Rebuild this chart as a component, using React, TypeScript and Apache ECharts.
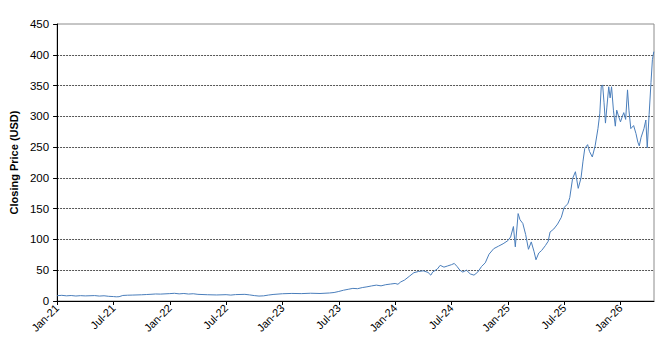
import React, { useEffect, useRef } from "react";
import * as echarts from "echarts";

// Months elapsed since 1 Jan 2021 (fractional) for each close reading
const monthOffset = [
  0, 0.5, 1, 1.5, 2, 2.5, 3, 4, 4.5, 5, 5.5, 6, 6.3, 6.6, 7, 7.5, 8, 9, 9.5, 10,
  10.5, 11, 12, 12.5, 13, 13.5, 14, 14.5, 15, 16, 17, 18, 18.5, 19, 20, 20.5, 21,
  21.5, 22, 22.5, 23, 24, 25, 26, 27, 28, 29, 29.5, 30, 30.5, 31, 31.5, 32, 32.5,
  33, 33.5, 34, 34.5, 35, 35.5, 36, 36.3, 36.6, 37, 37.5, 38, 38.5, 39, 39.5,
  39.8, 40, 40.5, 40.8, 41.2, 41.6, 42, 42.3, 42.6, 42.9, 43.2, 43.6, 44, 44.4,
  44.8, 45.2, 45.6, 46, 46.5, 47, 47.5, 48, 48.3, 48.6, 48.8, 49.1, 49.3, 49.6,
  49.9, 50.2, 50.5, 50.8, 51, 51.3, 51.6, 52, 52.3, 52.5, 52.9, 53.3, 53.7, 54,
  54.4, 54.6, 54.9, 55.2, 55.5, 55.8, 56, 56.2, 56.5, 56.7, 57, 57.3, 57.6, 57.8,
  57.95, 58.1, 58.25, 58.4, 58.55, 58.75, 58.9, 59.05, 59.25, 59.45, 59.6, 59.8,
  60, 60.2, 60.35, 60.55, 60.75, 60.9, 61.1, 61.4, 61.65, 61.85, 62, 62.2, 62.5,
  62.7, 62.85, 63.05, 63.25, 63.4, 63.55,
];

// Closing price (USD)
const closePrice = [
  8.6, 9.2, 8.4, 8.9, 8.1, 8.7, 8.3, 8.8, 8.0, 8.5, 7.6, 7.2, 6.8, 7.0, 9.0, 9.4,
  9.6, 10.1, 10.5, 10.9, 11.4, 11.2, 12.0, 12.5, 11.6, 12.2, 11.3, 11.8, 10.8,
  10.2, 9.8, 10.3, 9.6, 10.4, 10.8, 9.9, 8.8, 8.0, 8.4, 9.6, 10.6, 11.8, 12.3,
  12.0, 12.6, 12.2, 13.0, 13.8, 15.5, 17.5, 19.0, 20.5, 20.0, 21.8, 23.0, 24.5,
  25.8, 24.6, 26.5, 27.5, 28.5, 27.2, 31, 34, 40, 46, 48, 49, 46.5, 42, 47, 52,
  58, 55, 57, 59, 61, 56, 50, 47, 50, 44, 42, 47, 56, 62, 76, 85, 89, 93, 98,
  104, 121, 88, 142, 132, 126, 108, 84, 96, 80, 67, 78, 82, 90, 97, 112, 117,
  125, 136, 152, 158, 168, 199, 210, 183, 200, 226, 248, 254, 243, 234, 252, 280,
  305, 348, 351, 322, 289, 315, 348, 330, 348, 310, 284, 310, 300, 291, 300, 306,
  295, 343, 310, 280, 285, 272, 258, 252, 266, 280, 294, 249, 303, 355, 392, 405,
];

const xTickLabels = [
  "Jan-21", "Jul-21", "Jan-22", "Jul-22", "Jan-23", "Jul-23",
  "Jan-24", "Jul-24", "Jan-25", "Jul-25", "Jan-26",
];
const xTickValues = [0, 6, 12, 18, 24, 30, 36, 42, 48, 54, 60];
const xMax = 63.57;

export default function App() {
  const ref = useRef<HTMLDivElement>(null);

  useEffect(() => {
    if (!ref.current) return;
    const chart = echarts.init(ref.current, null, { renderer: "svg" });
    const font = "'Liberation Sans', Arial, sans-serif";
    chart.setOption({
      animation: false,
      backgroundColor: "#ffffff",
      grid: {
        left: 49,
        right: 17,
        top: 24,
        bottom: 45,
        show: true,
        borderColor: "#8c8c8c",
        borderWidth: 1,
        backgroundColor: "transparent",
      },
      xAxis: {
        type: "value",
        min: 0,
        max: xMax,
        axisLine: { show: true, lineStyle: { color: "#000", width: 1 } },
        axisTick: {
          show: true,
          length: 4,
          customValues: xTickValues,
          lineStyle: { color: "#000" },
        },
        axisLabel: {
          customValues: xTickValues,
          rotate: 45,
          margin: 5,
          fontSize: 11,
          fontFamily: font,
          color: "#000",
          formatter: (v: number) => {
            const i = xTickValues.indexOf(Math.round(v));
            return i >= 0 ? xTickLabels[i] : "";
          },
        },
        splitLine: { show: false },
      },
      yAxis: {
        type: "value",
        min: 0,
        max: 450,
        interval: 50,
        name: "Closing Price (USD)",
        nameLocation: "middle",
        nameGap: 37,
        nameTextStyle: {
          fontSize: 11,
          fontWeight: "bold",
          fontFamily: font,
          color: "#000",
        },
        axisLine: { show: true, lineStyle: { color: "#000", width: 1 } },
        axisTick: { show: true, length: 4, lineStyle: { color: "#000" } },
        axisLabel: {
          fontSize: 11.5,
          fontFamily: font,
          color: "#000",
          margin: 8,
        },
        splitLine: {
          show: true,
          showMaxLine: false,
          showMinLine: false,
          lineStyle: { color: "#555", type: [2, 1], width: 1 },
        },
      },
      series: [
        {
          type: "line",
          data: monthOffset.map((m, i) => [m, closePrice[i]]),
          showSymbol: false,
          symbol: "none",
          lineStyle: { color: "#4a7ebb", width: 1 },
          z: 3,
        },
      ],
    });
    return () => chart.dispose();
  }, []);

  return <div ref={ref} style={{ width: 671, height: 346, margin: -8 }} />;
}
